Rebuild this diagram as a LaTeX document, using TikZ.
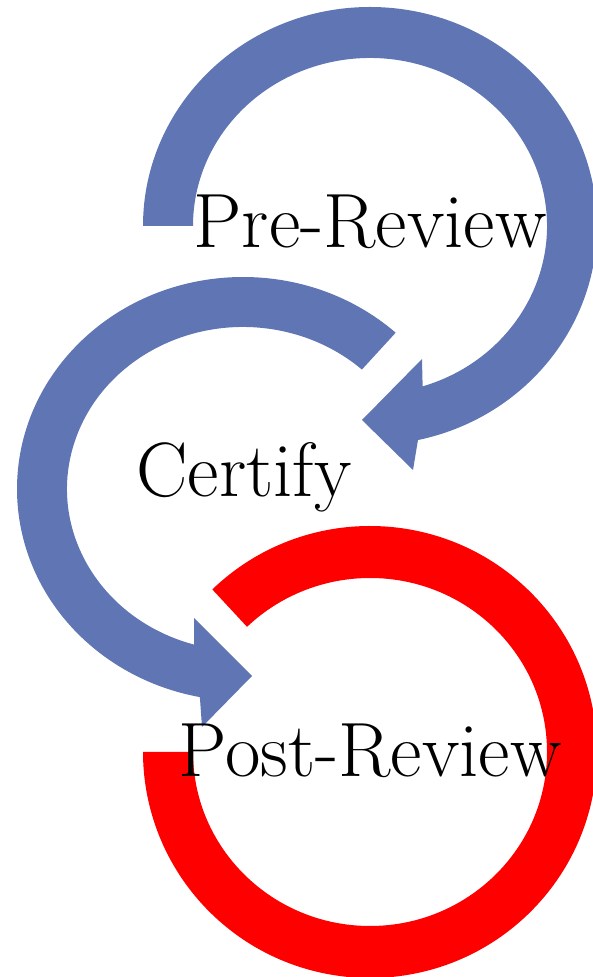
\documentclass[tikz,border=0pt]{standalone}
\usetikzlibrary{calc}
\definecolor{ringblue}{RGB}{96,118,180}
\definecolor{ringred}{RGB}{255,0,0}

\begin{document}
\begin{tikzpicture}[x=1pt,y=1pt,
		ring/.style={fill=ringblue},
		lastring/.style={fill=ringred},
		lbl/.style={anchor=base,inner sep=0pt,font=\fontsize{77}{86}\selectfont}]
			\useasboundingbox (0,0) rectangle (593,977);
			\coordinate (c1) at (370,751);
			\coordinate (c2) at (243,488);
			\coordinate (c3) at (370,225);

			\fill[ring] ($(c1)+(180:227pt and 219pt)$) arc[start angle=180,end angle=-77.8,x radius=227pt,y radius=219pt]
				-- (413,507) -- (362,557) -- (422,618)
				-- ($(c1)+(-72.7:177pt and 168pt)$) arc[start angle=-72.7,end angle=180,x radius=177pt,y radius=168pt] -- cycle;
			\fill[ring] ($(c2)+(47.5:226pt and 212pt)$) arc[start angle=47.5,end angle=259,x radius=226pt,y radius=212pt]
				-- (202,250) -- (252,301) -- (194,359)
				-- ($(c2)+(253.9:176pt and 162pt)$) arc[start angle=253.9,end angle=47.5,x radius=176pt,y radius=162pt] -- cycle;
			\fill[lastring] ($(c3)+(134:227pt and 226pt)$) arc[start angle=134,end angle=-180,x radius=227pt,y radius=226pt]
				-- ($(c3)+(180:177pt and 174pt)$) arc[start angle=-180,end angle=134,x radius=177pt,y radius=174pt] -- cycle;

			\node (1) [lbl] at (370,729) {Pre-Review};
			\node (2) [lbl] at (244,480) {Certify};
			\node (3) [lbl] at (370,200) {Post-Review};
\end{tikzpicture}
\end{document}
